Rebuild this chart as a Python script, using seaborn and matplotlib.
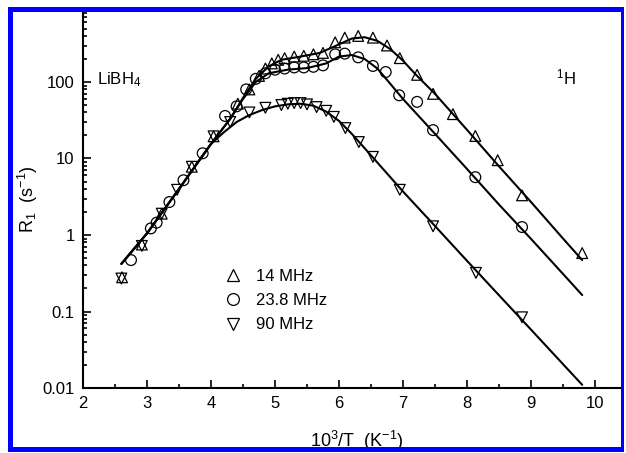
import matplotlib
matplotlib.use("Agg")
import matplotlib.pyplot as plt
import seaborn as sns
import numpy as np
from matplotlib.patches import Rectangle
from matplotlib.lines import Line2D

# ---- data ----
x14 = [2.61, 2.92, 3.23, 3.70, 4.04, 4.42, 4.60, 4.75, 4.85, 4.95, 5.05, 5.15, 5.30,
       5.45, 5.60, 5.75, 5.94, 6.09, 6.30, 6.53, 6.75, 6.95, 7.22, 7.47, 7.78, 8.13,
       8.48, 8.86, 9.80]
y14 = [0.28, 0.75, 1.9, 7.8, 19.5, 52, 80, 120, 150, 175, 195, 205, 215,
       220, 230, 240, 330, 380, 400, 380, 300, 205, 124, 70, 38, 19.7,
       9.5, 3.3, 0.58]

x23 = [2.75, 3.06, 3.15, 3.35, 3.57, 3.87, 4.22, 4.40, 4.55, 4.70, 4.85, 5.00, 5.15,
       5.30, 5.45, 5.60, 5.75, 5.94, 6.09, 6.30, 6.53, 6.73, 6.94, 7.22, 7.47, 8.13,
       8.86]
y23 = [0.47, 1.22, 1.45, 2.7, 5.2, 11.7, 36, 48, 80, 110, 130, 145, 150,
       155, 155, 158, 165, 230, 235, 210, 162, 135, 67, 55, 23.5, 5.7,
       1.27]

x90 = [2.60, 2.92, 3.23, 3.47, 3.70, 4.04, 4.30, 4.60, 4.85, 5.10, 5.20, 5.30, 5.40,
       5.50, 5.65, 5.80, 5.92, 6.10, 6.31, 6.53, 6.95, 7.47, 8.14, 8.86]
y90 = [0.27, 0.72, 1.9, 3.9, 7.8, 19.5, 30, 40, 46, 50, 52, 53, 53,
       51, 47, 42, 35, 25, 16.4, 10.5, 3.9, 1.3, 0.32, 0.084]

# fit curves
fx14 = [2.6, 3.0, 3.5, 4.0, 4.3, 4.5, 4.7, 4.9, 5.1, 5.4, 5.7, 6.0, 6.2, 6.4, 6.6,
        6.8, 7.0, 7.2, 7.5, 8.0, 8.5, 9.0, 9.5, 9.8]
fy14 = [0.42, 1.05, 4.0, 15.5, 33, 62, 110, 160, 195, 215, 240, 310, 370, 385, 345,
        270, 190, 125, 70, 23.7, 7.9, 2.7, 0.9, 0.47]

fx23 = [2.6, 3.0, 3.5, 4.0, 4.3, 4.5, 4.7, 4.9, 5.2, 5.5, 5.8, 6.0, 6.2, 6.4, 6.6,
        6.8, 7.0, 7.5, 8.0, 8.5, 9.0, 9.5, 9.8]
fy23 = [0.42, 1.05, 4.0, 15.5, 33, 60, 100, 130, 145, 152, 175, 215, 225, 200, 150,
        95, 60, 21, 7.3, 2.5, 0.89, 0.31, 0.164]

fx90 = [2.6, 3.0, 3.5, 4.0, 4.2, 4.4, 4.6, 4.8, 5.0, 5.2, 5.4, 5.6, 5.8, 6.0, 6.2,
        6.5, 7.0, 7.5, 8.0, 8.5, 9.0, 9.5, 9.8]
fy90 = [0.42, 1.05, 4.0, 15.5, 22, 30, 37, 43, 48, 51, 52, 49, 41, 31, 21,
        11, 3.7, 1.31, 0.46, 0.163, 0.058, 0.0205, 0.011]

labels = ["14 MHz", "23.8 MHz", "90 MHz"]
markers = ["^", "o", "v"]

# ---- style ----
sns.set_style("ticks")
plt.rcParams["font.family"] = ["Liberation Sans", "DejaVu Sans"]
plt.rcParams["mathtext.default"] = "regular"
for k in ["text.color", "axes.labelcolor", "xtick.color", "ytick.color", "axes.edgecolor"]:
    plt.rcParams[k] = "black"

W, H = 626, 453
fig = plt.figure(figsize=(W / 100, H / 100), dpi=100)
fig.patch.set_facecolor("white")

# axes placement in pixels: x=2 at px 83, 64 px per unit; y=0.01 at px 388, top px 10
left = 83 / W
bottom = (H - 388) / H
width = 8.5 * 64 / W
height = (388 - 10) / H
ax = fig.add_axes([left, bottom, width, height])

for fx, fy in [(fx14, fy14), (fx23, fy23), (fx90, fy90)]:
    sns.lineplot(x=fx, y=fy, ax=ax, color="black", lw=1.5, sort=False,
                 estimator=None, legend=False)

for xs, ys, m in [(x14, y14, markers[0]), (x23, y23, markers[1]), (x90, y90, markers[2])]:
    sns.scatterplot(x=xs, y=ys, ax=ax, marker=m, s=60, facecolor="none",
                    edgecolor="black", linewidth=0.9, legend=False, zorder=3)

ax.set_yscale("log")
ax.set_xlim(2, 10.5)
ax.set_ylim(0.01, 10 ** (2 + 72 / 76.5))
ax.set_xticks([2, 3, 4, 5, 6, 7, 8, 9, 10])
ax.set_xticks(np.arange(2.5, 10.5, 1.0), minor=True)
ax.set_yticks([0.01, 0.1, 1, 10, 100])
ax.set_yticklabels(["0.01", "0.1", "1", "10", "100"])
ax.set_xticklabels([str(v) for v in [2, 3, 4, 5, 6, 7, 8, 9, 10]])
ax.tick_params(which="both", direction="in", labelsize=12, width=1.2, pad=6,
               color="black", labelcolor="black")
ax.tick_params(which="major", length=6)
ax.tick_params(which="minor", length=3)
for s in ["left", "bottom"]:
    ax.spines[s].set_linewidth(1.5)
    ax.spines[s].set_color("black")
ax.spines["top"].set_visible(False)
ax.spines["right"].set_visible(False)

ax.set_xlabel(r"10$^3$/T  (K$^{-1}$)", fontsize=13)
ax.xaxis.set_label_coords((357 - 83) / 544, -(440 - 388) / 378 + 0.03, transform=ax.transAxes)
ax.set_ylabel(r"R$_1$  (s$^{-1}$)", fontsize=13)
ax.yaxis.set_label_coords(-(83 - 40) / 544, 0.5)

fig.text(97 / W, 1 - 80 / H, r"LiBH$_4$", fontsize=12, ha="left", va="center")
fig.text(556 / W, 1 - 77 / H, r"$^1$H", fontsize=12, ha="left", va="center")

handles = [Line2D([], [], ls="none", marker=m, markersize=8.5, markerfacecolor="none",
                  markeredgecolor="black", markeredgewidth=0.9) for m in markers]
ax.legend(handles, labels, loc="upper left", frameon=False, fontsize=12,
          bbox_to_anchor=((225 - 83) / 544, (388 - 269) / 378),
          handlelength=1.0, handletextpad=0.85, labelspacing=0.55, borderaxespad=0,
          borderpad=0)

# blue frame
blue = "#0000ff"
def box(x0, y0, x1, y1, c):
    fig.add_artist(Rectangle((x0 / W, 1 - y1 / H), (x1 - x0) / W, (y1 - y0) / H,
                             transform=fig.transFigure, facecolor=c, edgecolor="none",
                             lw=0, zorder=10))
box(0, 0, W, 7, "white")
box(0, 0, 8, H, "white")
box(624, 0, W, H, "white")
box(0, 452, W, H, "white")
box(8, 7, 13, 452, blue)
box(8, 7, 624, 12, blue)
box(8, 447, 624, 452, blue)
box(621, 7, 624, 452, blue)

fig.savefig("out.png", dpi=100)
